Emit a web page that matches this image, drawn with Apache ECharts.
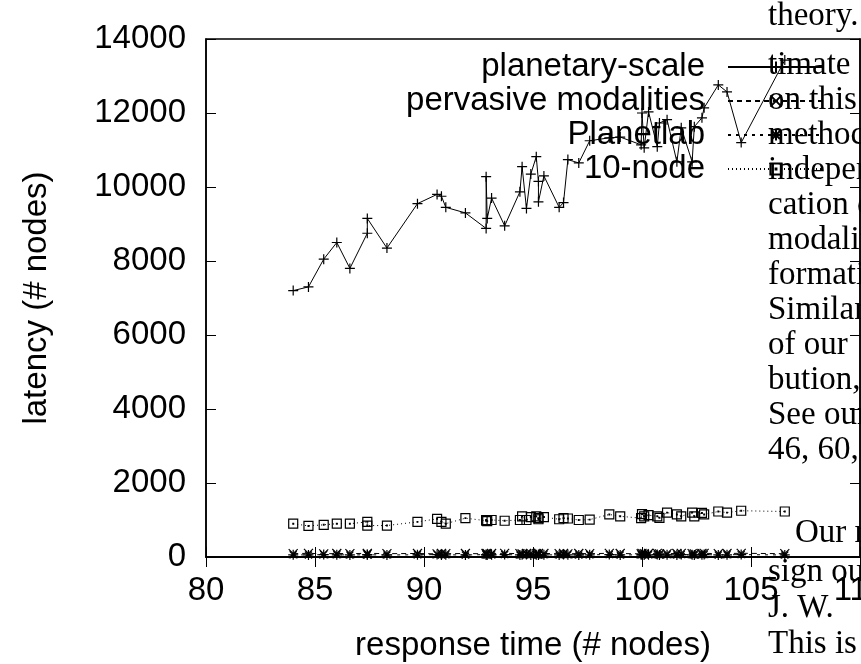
<!DOCTYPE html>
<html>
<head>
<meta charset="utf-8">
<script src="https://cdn.jsdelivr.net/npm/echarts@6/dist/echarts.min.js"></script>
<style>
html,body{margin:0;padding:0;background:#fff;overflow:hidden;}
#chart{width:861px;height:664px;}
</style>
</head>
<body>
<div id="chart"></div>
<script>
// ---- data ----
const seriesNames = ['planetary-scale', 'pervasive modalities', 'Planetlab', '10-node'];
const xValues = [84.0, 84.7, 85.4, 86.0, 86.6, 87.4, 87.4, 88.3, 89.7, 90.6, 90.8, 91.0, 91.9, 92.85, 92.85, 92.9, 93.1, 93.7, 94.4, 94.5, 94.7, 94.9, 95.15, 95.25, 95.25, 95.5, 96.2, 96.4, 96.6, 97.1, 97.6, 98.5, 99.0, 99.96, 100.0, 100.1, 100.3, 100.7, 100.8, 101.15, 101.6, 101.8, 102.3, 102.4, 102.75, 102.85, 103.5, 103.9, 104.55, 106.55];
const planetaryScale = [7200, 7300, 8050, 8500, 7800, 8750, 9150, 8350, 9550, 9800, 9750, 9450, 9300, 8880, 10280, 9150, 9700, 8950, 9870, 10550, 9420, 10350, 10820, 10150, 9600, 10300, 9450, 9580, 10740, 10650, 11250, 11330, 11350, 11140, 12000, 11060, 12030, 11090, 11730, 11820, 10680, 11600, 10680, 11630, 11870, 12140, 12760, 12570, 11200, 13430];
const pervasiveModalities = [90, 100, 85, 95, 90, 100, 80, 90, 95, 85, 100, 90, 95, 85, 100, 90, 95, 100, 90, 85, 95, 100, 90, 85, 100, 95, 90, 100, 85, 95, 90, 100, 95, 85, 100, 90, 95, 100, 85, 90, 95, 100, 90, 85, 95, 100, 90, 95, 100, 90];
const planetlab = [60, 55, 65, 60, 55, 60, 65, 55, 60, 65, 55, 60, 55, 65, 60, 55, 60, 65, 55, 60, 65, 55, 60, 65, 55, 60, 55, 65, 60, 55, 60, 65, 55, 60, 65, 55, 60, 65, 55, 60, 55, 65, 60, 55, 60, 65, 55, 60, 65, 55];
const tenNode = [900, 840, 870, 900, 900, 950, 850, 850, 950, 1030, 950, 900, 1050, 980, 1000, 970, 1000, 980, 1000, 1100, 1000, 1080, 1100, 1020, 1050, 1080, 1020, 1050, 1040, 1000, 1010, 1150, 1100, 1050, 1160, 1100, 1130, 1100, 1060, 1200, 1150, 1100, 1200, 1100, 1190, 1150, 1230, 1200, 1250, 1230];
const xAxisRange = [80, 110, 5];
const yAxisRange = [0, 14000, 2000];
const xTitle = 'response time (# nodes)';
const yTitle = 'latency (# nodes)';
const overlayLines = ['theory.', 'timate', 'on this', 'methoc', 'indeper', 'cation c', 'modalit', 'formati', 'Similar', 'of our', 'bution,', 'See our', '46, 60, 6', 'Our r', 'sign ou', 'J. W.', 'This is'];

// ---- styling ----
const SANS = 'Liberation Sans, Arial, Helvetica, sans-serif';
const SERIF = 'Liberation Serif, Times New Roman, serif';
const FS = 33;
const sym = {
  plus: 'path://M0,5L10,5M5,0L5,10',
  cross: 'path://M0,0L10,10M0,10L10,0',
  star: 'path://M0,5L10,5M5,0L5,10M1.5,1.5L8.5,8.5M1.5,8.5L8.5,1.5',
  box: 'path://M0,0L10,0L10,10L0,10ZM4.6,4.6L5.4,4.6L5.4,5.4L4.6,5.4Z'
};
function pairs(ys){ return xValues.map((x,i)=>[x, ys[i]]); }
function mkSeries(name, ys, symbol, size, ltype){
  return {
    name: name, type: 'line', data: pairs(ys),
    symbol: symbol, symbolSize: size, showSymbol: true,
    lineStyle: {color:'#000', width:1, type: ltype},
    itemStyle: {color:'rgba(0,0,0,0)', borderColor:'#000', borderWidth:1.2},
    emphasis: {disabled:true}, animation:false, z: 3
  };
}
const gridL = 206, gridT = 39, gridR = 1, gridB = 107;

// overlay text lines (serif text column)
const lineX = [768, 768, 768, 768, 768, 768, 768, 768, 768, 768, 768, 768, 768, 795, 768, 768, 768];
const lineY = [18, 67, 102, 137, 172, 207, 242, 277, 312, 347, 382, 417, 452, 535, 574, 610, 646];
const graphics = overlayLines.map((t,i)=>({
  type:'text', left: lineX[i], top: lineY[i] - 18, z: 100,
  style:{text:t, font: '33px ' + SERIF, fill:'#000'}
}));

const chart = echarts.init(document.getElementById('chart'), null, {renderer:'canvas'});
chart.setOption({
  animation:false,
  backgroundColor:'#fff',
  grid:{left:gridL, top:gridT, right:gridR, bottom:gridB, containLabel:false, outerBoundsMode:'none',
        show:true, borderColor:'#000', borderWidth:1.5, backgroundColor:'transparent'},
  legend:{
    orient:'vertical', align:'right', right:31, top:45,
    itemWidth:96, itemHeight:14, itemGap:0,
    textStyle:{fontFamily:SANS, fontSize:FS, color:'#000', lineHeight:34, padding:[0,18,0,0]},
    data: seriesNames, selectedMode:false
  },
  xAxis:[{
    type:'value', min:xAxisRange[0], max:xAxisRange[1], interval:xAxisRange[2], position:'bottom',
    name:xTitle, nameLocation:'middle', nameGap:72,
    nameTextStyle:{fontFamily:SANS, fontSize:FS, color:'#000'},
    axisLine:{show:true, lineStyle:{color:'#000', width:1.5}},
    axisTick:{show:true, inside:true, length:10, lineStyle:{color:'#000', width:1}},
    axisLabel:{fontFamily:SANS, fontSize:FS, color:'#000', margin:17, showMaxLabel:true, showMinLabel:true, hideOverlap:false},
    splitLine:{show:false}
  },{
    type:'value', min:xAxisRange[0], max:xAxisRange[1], interval:xAxisRange[2], position:'top',
    axisLine:{show:true, lineStyle:{color:'#000', width:1.5}},
    axisTick:{show:true, inside:true, length:10, lineStyle:{color:'#000', width:1}},
    axisLabel:{show:false}, splitLine:{show:false}
  }],
  yAxis:[{
    type:'value', min:yAxisRange[0], max:yAxisRange[1], interval:yAxisRange[2], position:'left',
    name:yTitle, nameLocation:'middle', nameGap:153,
    nameTextStyle:{fontFamily:SANS, fontSize:FS, color:'#000'},
    axisLine:{show:true, lineStyle:{color:'#000', width:1.5}},
    axisTick:{show:true, inside:true, length:10, lineStyle:{color:'#000', width:1}},
    axisLabel:{fontFamily:SANS, fontSize:FS, color:'#000', margin:20, formatter: v => String(v)},
    splitLine:{show:false}
  },{
    type:'value', min:yAxisRange[0], max:yAxisRange[1], interval:yAxisRange[2], position:'right',
    axisLine:{show:true, lineStyle:{color:'#000', width:1.5}},
    axisTick:{show:true, inside:true, length:10, lineStyle:{color:'#000', width:1}},
    axisLabel:{show:false}, splitLine:{show:false}
  }],
  series:[
    mkSeries(seriesNames[0], planetaryScale, sym.plus, 10, 'solid'),
    mkSeries(seriesNames[1], pervasiveModalities, sym.cross, 9, [5,4]),
    mkSeries(seriesNames[2], planetlab, sym.star, 10, [3,5]),
    mkSeries(seriesNames[3], tenNode, sym.box, 9, [1,3])
  ],
  graphic: graphics
});
</script>
</body>
</html>
